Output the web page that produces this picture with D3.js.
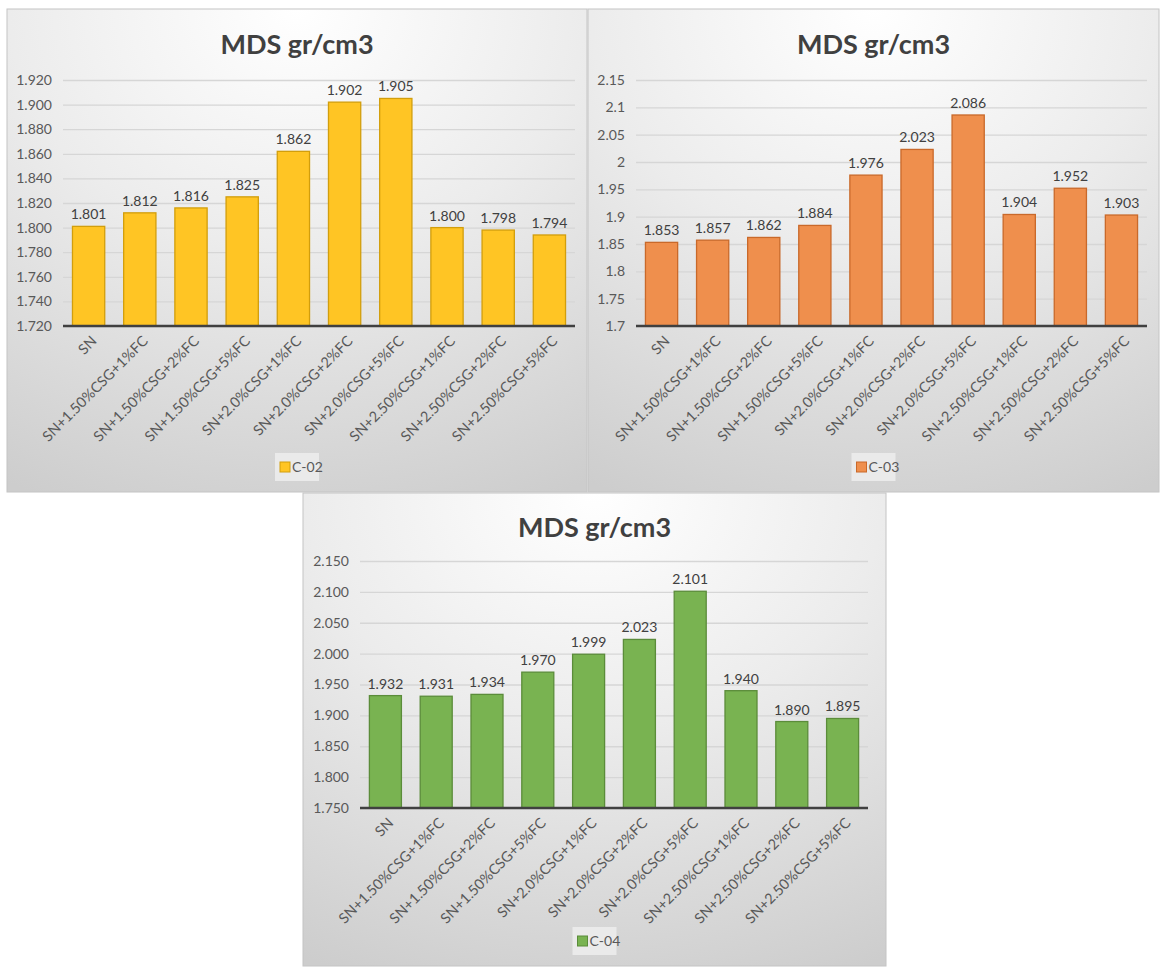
<!DOCTYPE html>
<html>
<head>
<meta charset="utf-8">
<script src="https://cdn.jsdelivr.net/npm/d3@7"></script>
<style>
  body { margin: 0; background: #fff; }
  svg { display: block; }
  text { font-family: Lato, "Open Sans", sans-serif; }
</style>
</head>
<body>
<svg id="main-svg" width="1163" height="967"></svg>
<script>
// categories shared by all three charts
var categories = [
  'SN', 'SN+1.50%CSG+1%FC', 'SN+1.50%CSG+2%FC', 'SN+1.50%CSG+5%FC',
  'SN+2.0%CSG+1%FC', 'SN+2.0%CSG+2%FC', 'SN+2.0%CSG+5%FC',
  'SN+2.50%CSG+1%FC', 'SN+2.50%CSG+2%FC', 'SN+2.50%CSG+5%FC'
];

var c02Values = [1.801, 1.812, 1.816, 1.825, 1.862, 1.902, 1.905, 1.800, 1.798, 1.794];
var c03Values = [1.853, 1.857, 1.862, 1.884, 1.976, 2.023, 2.086, 1.904, 1.952, 1.903];
var c04Values = [1.932, 1.931, 1.934, 1.970, 1.999, 2.023, 2.101, 1.940, 1.890, 1.895];

var c02Ticks = [1.72, 1.74, 1.76, 1.78, 1.80, 1.82, 1.84, 1.86, 1.88, 1.90, 1.92];
var c03Ticks = [1.7, 1.75, 1.8, 1.85, 1.9, 1.95, 2, 2.05, 2.1, 2.15];
var c04Ticks = [1.75, 1.8, 1.85, 1.9, 1.95, 2.0, 2.05, 2.1, 2.15];

var title = 'MDS gr/cm3';

var svg = d3.select('svg#main-svg');

// background gradient for the chart panels
var defs = svg.append('defs');
var grad = defs.append('radialGradient')
  .attr('id', 'panel-bg')
  .attr('cx', '50%').attr('cy', '0%')
  .attr('r', '110%')
  .attr('fx', '50%').attr('fy', '0%');
grad.append('stop').attr('offset', '0%').attr('stop-color', '#ffffff');
grad.append('stop').attr('offset', '45%').attr('stop-color', '#ececec');
grad.append('stop').attr('offset', '100%').attr('stop-color', '#cdcdcd');

var panels = [
  { name: 'C-02', values: c02Values, ticks: c02Ticks, fmt: d3.format('.3f'), labelFmt: d3.format('.3f'),
    x: 7, y: 9, w: 580, h: 483, left: 56, right: 12, top: 71, bottom: 166,
    fill: '#ffc524', stroke: '#d29e0c' },
  { name: 'C-03', values: c03Values, ticks: c03Ticks, fmt: d3.format('~f'), labelFmt: d3.format('.3f'),
    x: 588, y: 9, w: 571, h: 483, left: 48, right: 12, top: 71, bottom: 166,
    fill: '#ef8f4d', stroke: '#c9692a' },
  { name: 'C-04', values: c04Values, ticks: c04Ticks, fmt: d3.format('.3f'), labelFmt: d3.format('.3f'),
    x: 303, y: 493, w: 583, h: 473, left: 57, right: 18, top: 68, bottom: 158,
    fill: '#79b351', stroke: '#5b8c3a' }
];

panels.forEach(function (p) {

  var g = svg.append('g').attr('transform', 'translate(' + p.x + ',' + p.y + ')');

  g.append('rect')
    .attr('width', p.w).attr('height', p.h)
    .attr('fill', 'url(#panel-bg)')
    .attr('stroke', '#c4c4c4').attr('stroke-width', 1);

  var x0 = p.left, x1 = p.w - p.right,
      y0 = p.h - p.bottom, y1 = p.top;

  // bars centred in each category slot, like a spreadsheet column chart
  var x = d3.scaleBand().domain(categories).range([x0, x1])
        .paddingInner(0.37).paddingOuter(0.185),
      y = d3.scaleLinear().domain(d3.extent(p.ticks)).range([y0, y1]);

  g.append('text')
    .attr('x', p.w / 2).attr('y', p.name === 'C-04' ? 44 : 45)
    .attr('text-anchor', 'middle')
    .attr('font-size', 27).attr('font-weight', 'bold')
    .attr('fill', '#404040')
    .text(title);

  // y axis: gridlines + labels
  var yAxis = g.append('g')
    .attr('transform', 'translate(' + x0 + ',0)')
    .call(d3.axisLeft(y).tickValues(p.ticks).tickFormat(p.fmt).tickSize(-(x1 - x0)).tickPadding(11));
  yAxis.select('.domain').remove();
  yAxis.selectAll('.tick line').attr('stroke', '#d6d6d6').attr('stroke-width', 1.3);
  yAxis.selectAll('.tick text').attr('fill', '#595959').attr('font-size', 14)
    .attr('font-family', 'Lato, "Open Sans", sans-serif');

  // bars
  g.selectAll('rect.bar')
    .data(p.values)
    .enter().append('rect')
    .attr('class', 'bar')
    .attr('x', function (d, i) { return x(categories[i]); })
    .attr('y', function (d) { return y(d); })
    .attr('width', x.bandwidth())
    .attr('height', function (d) { return y0 - y(d); })
    .attr('fill', p.fill)
    .attr('stroke', p.stroke).attr('stroke-width', 1.3);

  // data labels
  g.selectAll('text.val')
    .data(p.values)
    .enter().append('text')
    .attr('class', 'val')
    .attr('x', function (d, i) { return x(categories[i]) + x.bandwidth() / 2; })
    .attr('y', function (d) { return y(d) - 7; })
    .attr('text-anchor', 'middle')
    .attr('font-size', 14).attr('fill', '#404040')
    .text(function (d) { return p.labelFmt(d); });

  // x axis
  var xAxis = g.append('g')
    .attr('transform', 'translate(0,' + y0 + ')')
    .call(d3.axisBottom(x).tickSize(0).tickPadding(0));
  xAxis.select('.domain').attr('stroke', '#404040').attr('stroke-width', 2.5)
    .attr('d', 'M' + x0 + ',0H' + x1);
  xAxis.selectAll('.tick text')
    .attr('fill', '#595959').attr('font-size', 14.5)
    .attr('font-family', 'Lato, "Open Sans", sans-serif')
    .attr('text-anchor', 'end')
    .attr('dy', 0)
    .attr('transform', 'translate(9,16) rotate(-45)');

  // legend
  var lg = g.append('g').attr('transform', 'translate(' + (p.w / 2) + ',' + (p.h - 25) + ')');
  lg.append('rect')
    .attr('x', -22).attr('y', -14).attr('width', 44).attr('height', 28)
    .attr('fill', '#eaeaea');
  lg.append('rect')
    .attr('x', -17).attr('y', -5).attr('width', 10).attr('height', 10)
    .attr('fill', p.fill).attr('stroke', p.stroke);
  lg.append('text')
    .attr('x', -5).attr('y', 5)
    .attr('font-size', 14).attr('fill', '#595959')
    .text(p.name);
});
</script>
</body>
</html>
